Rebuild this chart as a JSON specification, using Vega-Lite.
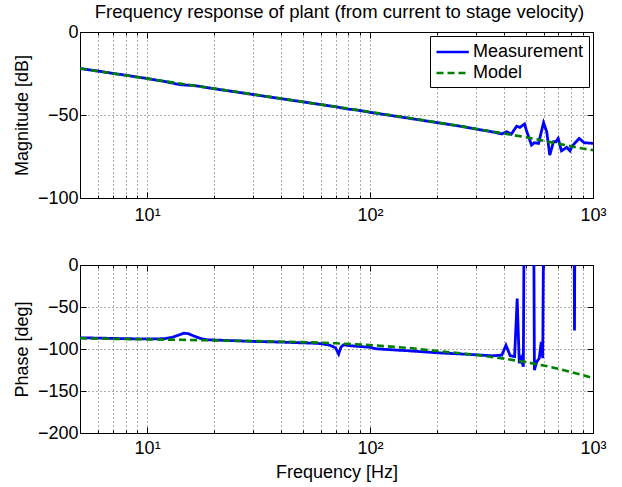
{
  "$schema": "https://vega.github.io/schema/vega-lite/v6.json",
  "padding": {"left": 13, "top": 2, "right": 10, "bottom": 2},
  "background": "white",
  "spacing": 29,
  "datasets": {
    "mag": [
      {"f": 5, "s": "Model", "v": -22.0},
      {"f": 6, "s": "Model", "v": -23.6},
      {"f": 7, "s": "Model", "v": -24.9},
      {"f": 8, "s": "Model", "v": -26.1},
      {"f": 9, "s": "Model", "v": -27.1},
      {"f": 10, "s": "Model", "v": -28.1},
      {"f": 12, "s": "Model", "v": -29.7},
      {"f": 15, "s": "Model", "v": -31.6},
      {"f": 20, "s": "Model", "v": -34.1},
      {"f": 25, "s": "Model", "v": -36.0},
      {"f": 30, "s": "Model", "v": -37.6},
      {"f": 40, "s": "Model", "v": -40.1},
      {"f": 50, "s": "Model", "v": -42.1},
      {"f": 60, "s": "Model", "v": -43.7},
      {"f": 70, "s": "Model", "v": -45.0},
      {"f": 80, "s": "Model", "v": -46.2},
      {"f": 100, "s": "Model", "v": -48.2},
      {"f": 120, "s": "Model", "v": -49.8},
      {"f": 150, "s": "Model", "v": -51.8},
      {"f": 200, "s": "Model", "v": -54.5},
      {"f": 250, "s": "Model", "v": -56.5},
      {"f": 300, "s": "Model", "v": -58.4},
      {"f": 400, "s": "Model", "v": -61.2},
      {"f": 500, "s": "Model", "v": -63.4},
      {"f": 600, "s": "Model", "v": -65.5},
      {"f": 700, "s": "Model", "v": -67.3},
      {"f": 800, "s": "Model", "v": -68.9},
      {"f": 900, "s": "Model", "v": -70.2},
      {"f": 1000, "s": "Model", "v": -71.2},
      {"f": 5, "s": "Measurement", "v": -22.0},
      {"f": 6, "s": "Measurement", "v": -23.5},
      {"f": 7, "s": "Measurement", "v": -24.9},
      {"f": 8, "s": "Measurement", "v": -26.0},
      {"f": 9, "s": "Measurement", "v": -27.1},
      {"f": 10, "s": "Measurement", "v": -28.0},
      {"f": 11, "s": "Measurement", "v": -29.0},
      {"f": 12, "s": "Measurement", "v": -29.8},
      {"f": 13, "s": "Measurement", "v": -30.8},
      {"f": 14, "s": "Measurement", "v": -31.7},
      {"f": 15, "s": "Measurement", "v": -32.0},
      {"f": 16, "s": "Measurement", "v": -32.2},
      {"f": 17, "s": "Measurement", "v": -32.6},
      {"f": 18, "s": "Measurement", "v": -33.2},
      {"f": 20, "s": "Measurement", "v": -34.2},
      {"f": 25, "s": "Measurement", "v": -36.1},
      {"f": 30, "s": "Measurement", "v": -37.7},
      {"f": 40, "s": "Measurement", "v": -40.2},
      {"f": 50, "s": "Measurement", "v": -42.1},
      {"f": 60, "s": "Measurement", "v": -43.7},
      {"f": 70, "s": "Measurement", "v": -45.0},
      {"f": 75, "s": "Measurement", "v": -45.8},
      {"f": 80, "s": "Measurement", "v": -46.5},
      {"f": 85, "s": "Measurement", "v": -46.8},
      {"f": 90, "s": "Measurement", "v": -47.3},
      {"f": 100, "s": "Measurement", "v": -48.4},
      {"f": 120, "s": "Measurement", "v": -50.0},
      {"f": 150, "s": "Measurement", "v": -52.0},
      {"f": 200, "s": "Measurement", "v": -54.6},
      {"f": 250, "s": "Measurement", "v": -56.6},
      {"f": 300, "s": "Measurement", "v": -58.5},
      {"f": 352, "s": "Measurement", "v": -60.1},
      {"f": 390, "s": "Measurement", "v": -61.4},
      {"f": 410, "s": "Measurement", "v": -60.1},
      {"f": 430, "s": "Measurement", "v": -61.5},
      {"f": 455, "s": "Measurement", "v": -56.7},
      {"f": 470, "s": "Measurement", "v": -57.5},
      {"f": 493, "s": "Measurement", "v": -55.4},
      {"f": 505, "s": "Measurement", "v": -60.1},
      {"f": 530, "s": "Measurement", "v": -68.1},
      {"f": 545, "s": "Measurement", "v": -66.7},
      {"f": 570, "s": "Measurement", "v": -67.1},
      {"f": 600, "s": "Measurement", "v": -54.6},
      {"f": 620, "s": "Measurement", "v": -60.1},
      {"f": 640, "s": "Measurement", "v": -74.2},
      {"f": 665, "s": "Measurement", "v": -66.1},
      {"f": 682, "s": "Measurement", "v": -66.1},
      {"f": 698, "s": "Measurement", "v": -64.1},
      {"f": 722, "s": "Measurement", "v": -71.6},
      {"f": 762, "s": "Measurement", "v": -69.5},
      {"f": 789, "s": "Measurement", "v": -71.6},
      {"f": 803, "s": "Measurement", "v": -69.2},
      {"f": 832, "s": "Measurement", "v": -66.7},
      {"f": 867, "s": "Measurement", "v": -64.1},
      {"f": 913, "s": "Measurement", "v": -66.7},
      {"f": 1000, "s": "Measurement", "v": -67.1}
    ],
    "phase": [
      {"f": 5, "s": "Model", "v": -87.2},
      {"f": 7, "s": "Model", "v": -87.9},
      {"f": 10, "s": "Model", "v": -88.5},
      {"f": 15, "s": "Model", "v": -89.2},
      {"f": 20, "s": "Model", "v": -89.8},
      {"f": 30, "s": "Model", "v": -90.6},
      {"f": 50, "s": "Model", "v": -91.8},
      {"f": 70, "s": "Model", "v": -93.2},
      {"f": 100, "s": "Model", "v": -95.3},
      {"f": 150, "s": "Model", "v": -98.8},
      {"f": 200, "s": "Model", "v": -102.3},
      {"f": 300, "s": "Model", "v": -107.0},
      {"f": 400, "s": "Model", "v": -111.5},
      {"f": 500, "s": "Model", "v": -115.6},
      {"f": 600, "s": "Model", "v": -119.6},
      {"f": 700, "s": "Model", "v": -123.5},
      {"f": 800, "s": "Model", "v": -127.4},
      {"f": 900, "s": "Model", "v": -131.1},
      {"f": 1000, "s": "Model", "v": -134.7},
      {"f": 5, "s": "Measurement", "v": -86.7},
      {"f": 6, "s": "Measurement", "v": -87.0},
      {"f": 7, "s": "Measurement", "v": -87.4},
      {"f": 8, "s": "Measurement", "v": -87.7},
      {"f": 9, "s": "Measurement", "v": -87.9},
      {"f": 10, "s": "Measurement", "v": -88.0},
      {"f": 11, "s": "Measurement", "v": -88.0},
      {"f": 12, "s": "Measurement", "v": -87.6},
      {"f": 13, "s": "Measurement", "v": -86.0},
      {"f": 14, "s": "Measurement", "v": -83.0},
      {"f": 14.6, "s": "Measurement", "v": -81.2},
      {"f": 15.3, "s": "Measurement", "v": -81.8},
      {"f": 16.2, "s": "Measurement", "v": -84.5},
      {"f": 17.5, "s": "Measurement", "v": -87.8},
      {"f": 18.6, "s": "Measurement", "v": -89.0},
      {"f": 20, "s": "Measurement", "v": -89.3},
      {"f": 25, "s": "Measurement", "v": -90.2},
      {"f": 30, "s": "Measurement", "v": -91.0},
      {"f": 40, "s": "Measurement", "v": -91.8},
      {"f": 50, "s": "Measurement", "v": -92.7},
      {"f": 55, "s": "Measurement", "v": -93.0},
      {"f": 60, "s": "Measurement", "v": -93.6},
      {"f": 66, "s": "Measurement", "v": -95.5},
      {"f": 70, "s": "Measurement", "v": -98.5},
      {"f": 72.3, "s": "Measurement", "v": -106.0},
      {"f": 74, "s": "Measurement", "v": -98.0},
      {"f": 76, "s": "Measurement", "v": -95.0},
      {"f": 80, "s": "Measurement", "v": -96.0},
      {"f": 90, "s": "Measurement", "v": -97.0},
      {"f": 100, "s": "Measurement", "v": -98.0},
      {"f": 107, "s": "Measurement", "v": -99.8},
      {"f": 150, "s": "Measurement", "v": -102.2},
      {"f": 200, "s": "Measurement", "v": -104.5},
      {"f": 300, "s": "Measurement", "v": -106.9},
      {"f": 352, "s": "Measurement", "v": -108.1},
      {"f": 390, "s": "Measurement", "v": -107.3},
      {"f": 407, "s": "Measurement", "v": -95.5},
      {"f": 425, "s": "Measurement", "v": -108.0},
      {"f": 445, "s": "Measurement", "v": -109.0},
      {"f": 457, "s": "Measurement", "v": -40.0},
      {"f": 467, "s": "Measurement", "v": -117.0},
      {"f": 476, "s": "Measurement", "v": -111.0},
      {"f": 487, "s": "Measurement", "v": -121.0},
      {"f": 493, "s": "Measurement", "v": 150},
      {"f": 540, "s": "Measurement", "v": 150},
      {"f": 546, "s": "Measurement", "v": -125.0},
      {"f": 560, "s": "Measurement", "v": -115.0},
      {"f": 574, "s": "Measurement", "v": -111.0},
      {"f": 586, "s": "Measurement", "v": -91.5},
      {"f": 595, "s": "Measurement", "v": -111.0},
      {"f": 604, "s": "Measurement", "v": 150},
      {"f": 820, "s": "Measurement", "v": 150},
      {"f": 826, "s": "Measurement", "v": -78.0},
      {"f": 832, "s": "Measurement", "v": 150},
      {"f": 1000, "s": "Measurement", "v": 150}
    ]
  },
  "config": {
    "font": "Liberation Sans",
    "view": {"stroke": null},
    "axis": {
      "labelFont": "Liberation Sans",
      "labelFontSize": 18,
      "labelColor": "#000",
      "titleFont": "Liberation Sans",
      "titleFontSize": 18,
      "titleFontWeight": "normal",
      "titleColor": "#000",
      "domainColor": "#000",
      "domainWidth": 1,
      "tickColor": "#000",
      "gridColor": "#000",
      "gridDash": [1, 3],
      "gridOpacity": 0.65,
      "gridWidth": 1,
      "labelFlush": false,
      "labelOverlap": false,
      "labelBound": false
    },
    "legend": {
      "labelFont": "Liberation Sans",
      "labelFontSize": 18,
      "labelColor": "#000"
    },
    "title": {"font": "Liberation Sans", "fontSize": 18.5, "fontWeight": "normal", "color": "#000"}
  },
  "resolve": {
    "scale": {"color": "independent", "strokeDash": "independent"},
    "legend": {"color": "independent", "strokeDash": "independent"}
  },
  "vconcat": [
    {
      "width": 513,
      "height": 166,
      "title": {"text": "Frequency response of plant (from current to stage velocity)", "frame": "group", "anchor": "middle", "offset": 2, "dx": 3},
      "data": {"name": "mag"},
      "layer": [
        {
          "transform": [{"filter": "datum.s == 'Measurement'"}],
          "mark": {"type": "line", "clip": true, "strokeWidth": 2.8},
          "encoding": {
            "x": {"field": "f", "type": "quantitative", "scale": {"type": "log", "domain": [5, 1000], "nice": false},
              "axis": {"orient": "bottom", "title": null, "grid": true,
                "values": [5, 6, 7, 8, 9, 10, 20, 30, 40, 50, 60, 70, 80, 90, 100, 200, 300, 400, 500, 600, 700, 800, 900, 1000],
                "labelExpr": "datum.value == 10 ? '10¹' : datum.value == 100 ? '10²' : datum.value == 1000 ? '10³' : ''",
                "tickSize": {"condition": {"test": "datum.value == 10 || datum.value == 100 || datum.value == 1000", "value": -6}, "value": -3},
                "labelPadding": 14}},
            "y": {"field": "v", "type": "quantitative", "scale": {"domain": [-100, 0], "nice": false},
              "axis": {"orient": "left", "title": "Magnitude [dB]", "values": [-100, -50, 0], "grid": true, "tickSize": -6, "labelPadding": 8, "titlePadding": 6}},
            "color": {"field": "s", "type": "nominal", "scale": {"domain": ["Measurement", "Model"], "range": ["#0000ff", "#008000"]},
              "legend": {"title": null, "orient": "top-right", "offset": 4, "strokeColor": "#000", "fillColor": "#fff", "padding": 5, "symbolType": "M-1,0L2.4,0", "symbolSize": 361, "symbolStrokeWidth": 2.6, "rowPadding": 1, "labelOffset": 16}},
            "strokeDash": {"field": "s", "type": "nominal", "scale": {"domain": ["Measurement", "Model"], "range": [[1, 0], [7, 4]]},
              "legend": {"title": null, "orient": "top-right", "offset": 4, "strokeColor": "#000", "fillColor": "#fff", "padding": 5, "symbolType": "M-1,0L2.4,0", "symbolSize": 361, "symbolStrokeWidth": 2.6, "rowPadding": 1, "labelOffset": 16}}
          }
        },
        {
          "transform": [{"filter": "datum.s == 'Model'"}],
          "mark": {"type": "line", "clip": true, "strokeWidth": 2.6},
          "encoding": {
            "x": {"field": "f", "type": "quantitative", "scale": {"type": "log", "domain": [5, 1000], "nice": false},
              "axis": {"orient": "top", "title": null, "grid": false, "labels": false,
                "values": [5, 6, 7, 8, 9, 10, 20, 30, 40, 50, 60, 70, 80, 90, 100, 200, 300, 400, 500, 600, 700, 800, 900, 1000],
                "tickSize": {"condition": {"test": "datum.value == 10 || datum.value == 100 || datum.value == 1000", "value": -6}, "value": -3}}},
            "y": {"field": "v", "type": "quantitative", "scale": {"domain": [-100, 0], "nice": false},
              "axis": {"orient": "right", "title": null, "labels": false, "values": [-100, -50, 0], "grid": false, "tickSize": -6}},
            "color": {"field": "s", "type": "nominal", "scale": {"domain": ["Measurement", "Model"], "range": ["#0000ff", "#008000"]}},
            "strokeDash": {"field": "s", "type": "nominal", "scale": {"domain": ["Measurement", "Model"], "range": [[1, 0], [7, 4]]}}
          }
        }
      ]
    },
    {
      "width": 513,
      "height": 168,
      "data": {"name": "phase"},
      "layer": [
        {
          "transform": [{"filter": "datum.s == 'Measurement'"}],
          "mark": {"type": "line", "clip": true, "strokeWidth": 2.8},
          "encoding": {
            "x": {"field": "f", "type": "quantitative", "scale": {"type": "log", "domain": [5, 1000], "nice": false},
              "axis": {"orient": "bottom", "title": "Frequency [Hz]", "grid": true, "titlePadding": 3,
                "values": [5, 6, 7, 8, 9, 10, 20, 30, 40, 50, 60, 70, 80, 90, 100, 200, 300, 400, 500, 600, 700, 800, 900, 1000],
                "labelExpr": "datum.value == 10 ? '10¹' : datum.value == 100 ? '10²' : datum.value == 1000 ? '10³' : ''",
                "tickSize": {"condition": {"test": "datum.value == 10 || datum.value == 100 || datum.value == 1000", "value": -6}, "value": -3},
                "labelPadding": 12}},
            "y": {"field": "v", "type": "quantitative", "scale": {"domain": [-200, 0], "nice": false},
              "axis": {"orient": "left", "title": "Phase [deg]", "values": [-200, -150, -100, -50, 0], "grid": true, "tickSize": -6, "labelPadding": 8, "titlePadding": 6}},
            "color": {"field": "s", "type": "nominal", "scale": {"domain": ["Measurement", "Model"], "range": ["#0000ff", "#008000"]}, "legend": null},
            "strokeDash": {"field": "s", "type": "nominal", "scale": {"domain": ["Measurement", "Model"], "range": [[1, 0], [7, 4]]}, "legend": null}
          }
        },
        {
          "transform": [{"filter": "datum.s == 'Model'"}],
          "mark": {"type": "line", "clip": true, "strokeWidth": 2.6},
          "encoding": {
            "x": {"field": "f", "type": "quantitative", "scale": {"type": "log", "domain": [5, 1000], "nice": false},
              "axis": {"orient": "top", "title": null, "grid": false, "labels": false,
                "values": [5, 6, 7, 8, 9, 10, 20, 30, 40, 50, 60, 70, 80, 90, 100, 200, 300, 400, 500, 600, 700, 800, 900, 1000],
                "tickSize": {"condition": {"test": "datum.value == 10 || datum.value == 100 || datum.value == 1000", "value": -6}, "value": -3}}},
            "y": {"field": "v", "type": "quantitative", "scale": {"domain": [-200, 0], "nice": false},
              "axis": {"orient": "right", "title": null, "labels": false, "values": [-200, -150, -100, -50, 0], "grid": false, "tickSize": -6}},
            "color": {"field": "s", "type": "nominal", "scale": {"domain": ["Measurement", "Model"], "range": ["#0000ff", "#008000"]}, "legend": null},
            "strokeDash": {"field": "s", "type": "nominal", "scale": {"domain": ["Measurement", "Model"], "range": [[1, 0], [7, 4]]}, "legend": null}
          }
        }
      ]
    }
  ]
}
